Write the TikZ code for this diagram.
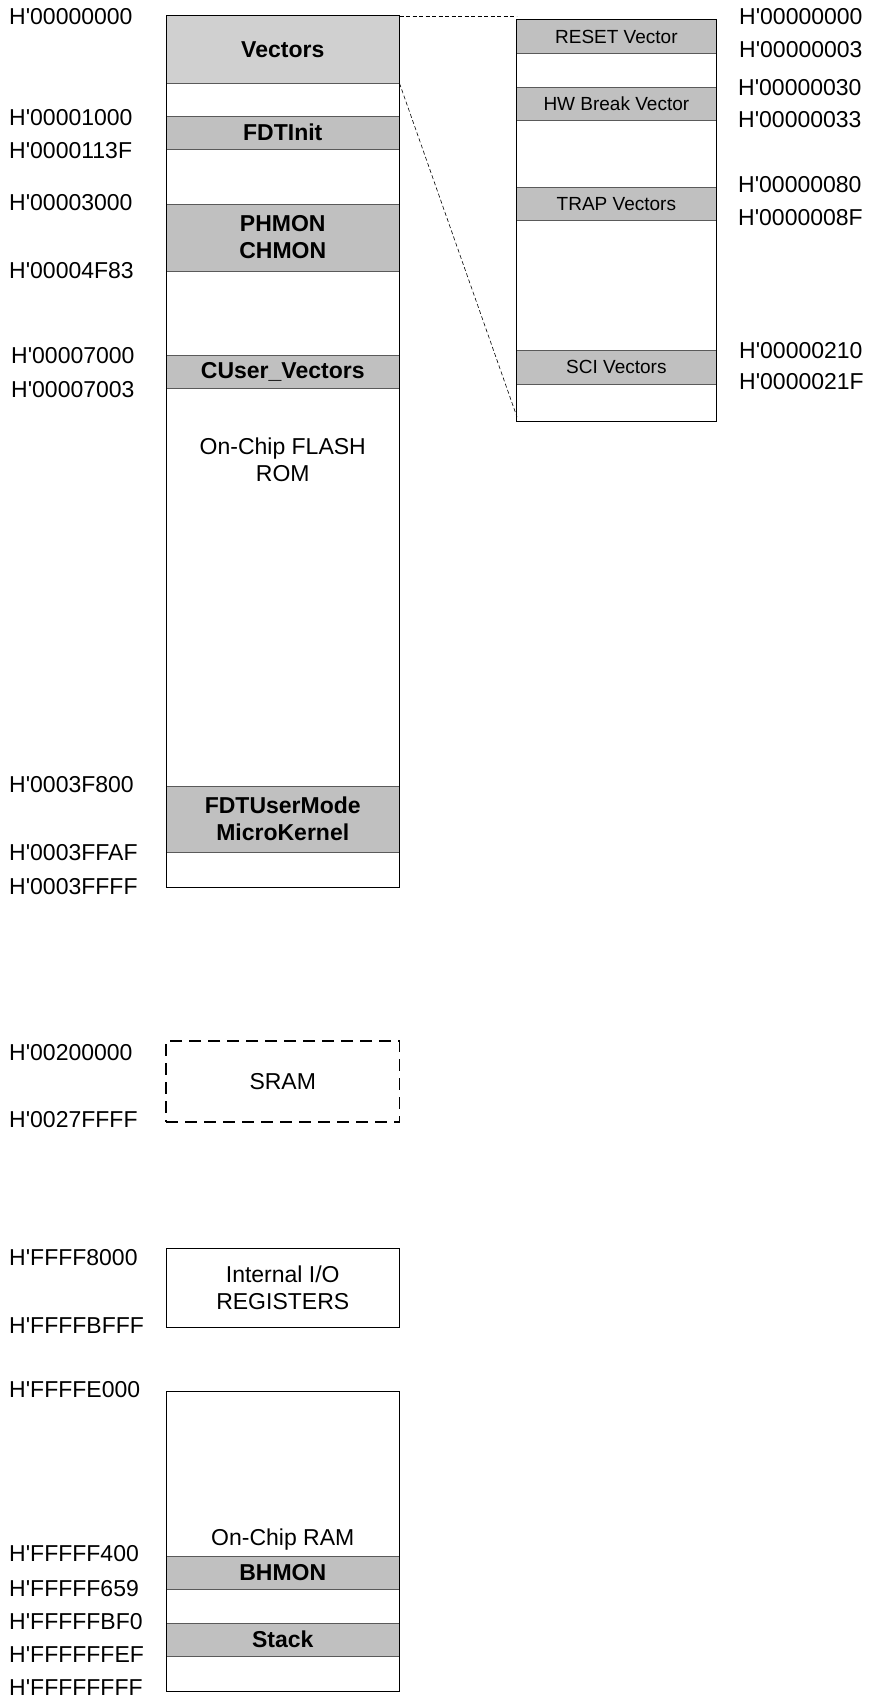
\documentclass[tikz,border=0pt]{standalone}
\usepackage{fontspec}
\setmainfont{Liberation Sans}
\definecolor{segfill}{RGB}{192,192,192}
\definecolor{vecfill}{RGB}{208,208,208}
\definecolor{segline}{RGB}{90,90,90}
\newcommand{\hq}{H\textquotesingle}
\begin{document}
\begin{tikzpicture}[x=1pt,y=-1pt,
  box/.style={draw=black, line width=1pt, anchor=north west, minimum width=233.5pt, inner sep=0pt, outer sep=0pt},
  seg/.style={draw=segline, line width=1pt, fill=segfill, anchor=north west, minimum width=233.5pt, inner sep=0pt, outer sep=0pt, font=\fontsize{23}{27}\selectfont\bfseries, align=center},
  rseg/.style={draw=segline, line width=1pt, fill=segfill, anchor=north west, minimum width=200.7pt, inner sep=0pt, outer sep=0pt, font=\fontsize{19}{22}\selectfont},
  txt/.style={font=\fontsize{23}{27}\selectfont, align=center, inner sep=0pt},
  addr/.style={font=\fontsize{23}{27}\selectfont, anchor=west, inner sep=0pt},
  zoomline/.style={draw=black, line width=0.6pt, dash pattern=on 4pt off 2.5pt}
]
\useasboundingbox (0,0) rectangle (869,1702);

% ---- main flash column ----
\node[seg, fill=vecfill, minimum height=67.3pt] (vec) at (166,16) {Vectors};
\node[seg, minimum height=33pt] (fdtinit) at (166,116) {FDTInit};
\node[seg, minimum height=67pt] (mon) at (166,204) {PHMON\\CHMON};
\node[seg, minimum height=33pt] (cuser) at (166,355) {CUser\_Vectors};
\node[seg, minimum height=66pt] (fdtum) at (166,786) {FDTUserMode\\MicroKernel};
\node[box, minimum height=871pt] (flash) at (166,16) {};
\node[txt] (flashtxt) at (282.75,459.5) {On-Chip FLASH\\ROM};

% ---- SRAM ----
\node[box, line width=1.3pt, dash pattern=on 12pt off 7pt, minimum height=81pt, font=\fontsize{23}{27}\selectfont] (sram) at (166,1041) {SRAM};

% ---- Internal I/O ----
\node[box, minimum height=79pt, font=\fontsize{23}{27}\selectfont, align=center] (io) at (166,1248) {Internal I/O\\REGISTERS};

% ---- On-chip RAM ----
\node[seg, minimum height=33pt] (bhmon) at (166,1556) {BHMON};
\node[seg, minimum height=33pt] (stack) at (166,1623) {Stack};
\node[box, minimum height=300pt] (ram) at (166,1391) {};
\node[txt] (ramtxt) at (282.75,1540) {On-Chip RAM};

% ---- vector table detail ----
\node[rseg, minimum height=33.3pt] (reset) at (516,20) {RESET Vector};
\node[rseg, minimum height=32.6pt] (hwbrk) at (516,87.7) {HW Break Vector};
\node[rseg, minimum height=33pt] (trap) at (516,187.7) {TRAP Vectors};
\node[rseg, minimum height=33.3pt] (sci) at (516,350.7) {SCI Vectors};
\node[box, minimum width=200.7pt, minimum height=401.7pt] (vtab) at (516,20) {};

% ---- zoom lines ----
\coordinate (z1) at (516.5,16);
\coordinate (z2) at (517,417);
\draw[zoomline] (vec.north east) -- (z1);
\draw[zoomline] (vec.south east) -- (z2);

% ---- left addresses ----
\node[addr] (a1) at (9,16.7) {\hq00000000};
\node[addr] (a2) at (9,118) {\hq00001000};
\node[addr] (a3) at (9,151) {\hq0000113F};
\node[addr] (a4) at (9,203) {\hq00003000};
\node[addr] (a5) at (9,271) {\hq00004F83};
\node[addr] (a6) at (11,356) {\hq00007000};
\node[addr] (a7) at (11,390) {\hq00007003};
\node[addr] (a8) at (9,785) {\hq0003F800};
\node[addr] (a9) at (9,853) {\hq0003FFAF};
\node[addr] (a10) at (9,887) {\hq0003FFFF};
\node[addr] (a11) at (9,1053) {\hq00200000};
\node[addr] (a12) at (9,1120) {\hq0027FFFF};
\node[addr] (a13) at (9,1258) {\hq FFFF8000};
\node[addr] (a14) at (9,1326) {\hq FFFFBFFF};
\node[addr] (a15) at (9,1390) {\hq FFFFE000};
\node[addr] (a16) at (9,1554) {\hq FFFFF400};
\node[addr] (a17) at (9,1589) {\hq FFFFF659};
\node[addr] (a18) at (9,1622) {\hq FFFFFBF0};
\node[addr] (a19) at (9,1655) {\hq FFFFFFEF};
\node[addr] (a20) at (9,1688) {\hq FFFFFFFF};

% ---- right addresses ----
\node[addr] (b1) at (739,16.7) {\hq00000000};
\node[addr] (b2) at (739,49.3) {\hq00000003};
\node[addr] (b3) at (738,87.3) {\hq00000030};
\node[addr] (b4) at (738,119.3) {\hq00000033};
\node[addr] (b5) at (738,185) {\hq00000080};
\node[addr] (b6) at (738,217.3) {\hq0000008F};
\node[addr] (b7) at (739,350.7) {\hq00000210};
\node[addr] (b8) at (739,381.7) {\hq0000021F};
\end{tikzpicture}
\end{document}
